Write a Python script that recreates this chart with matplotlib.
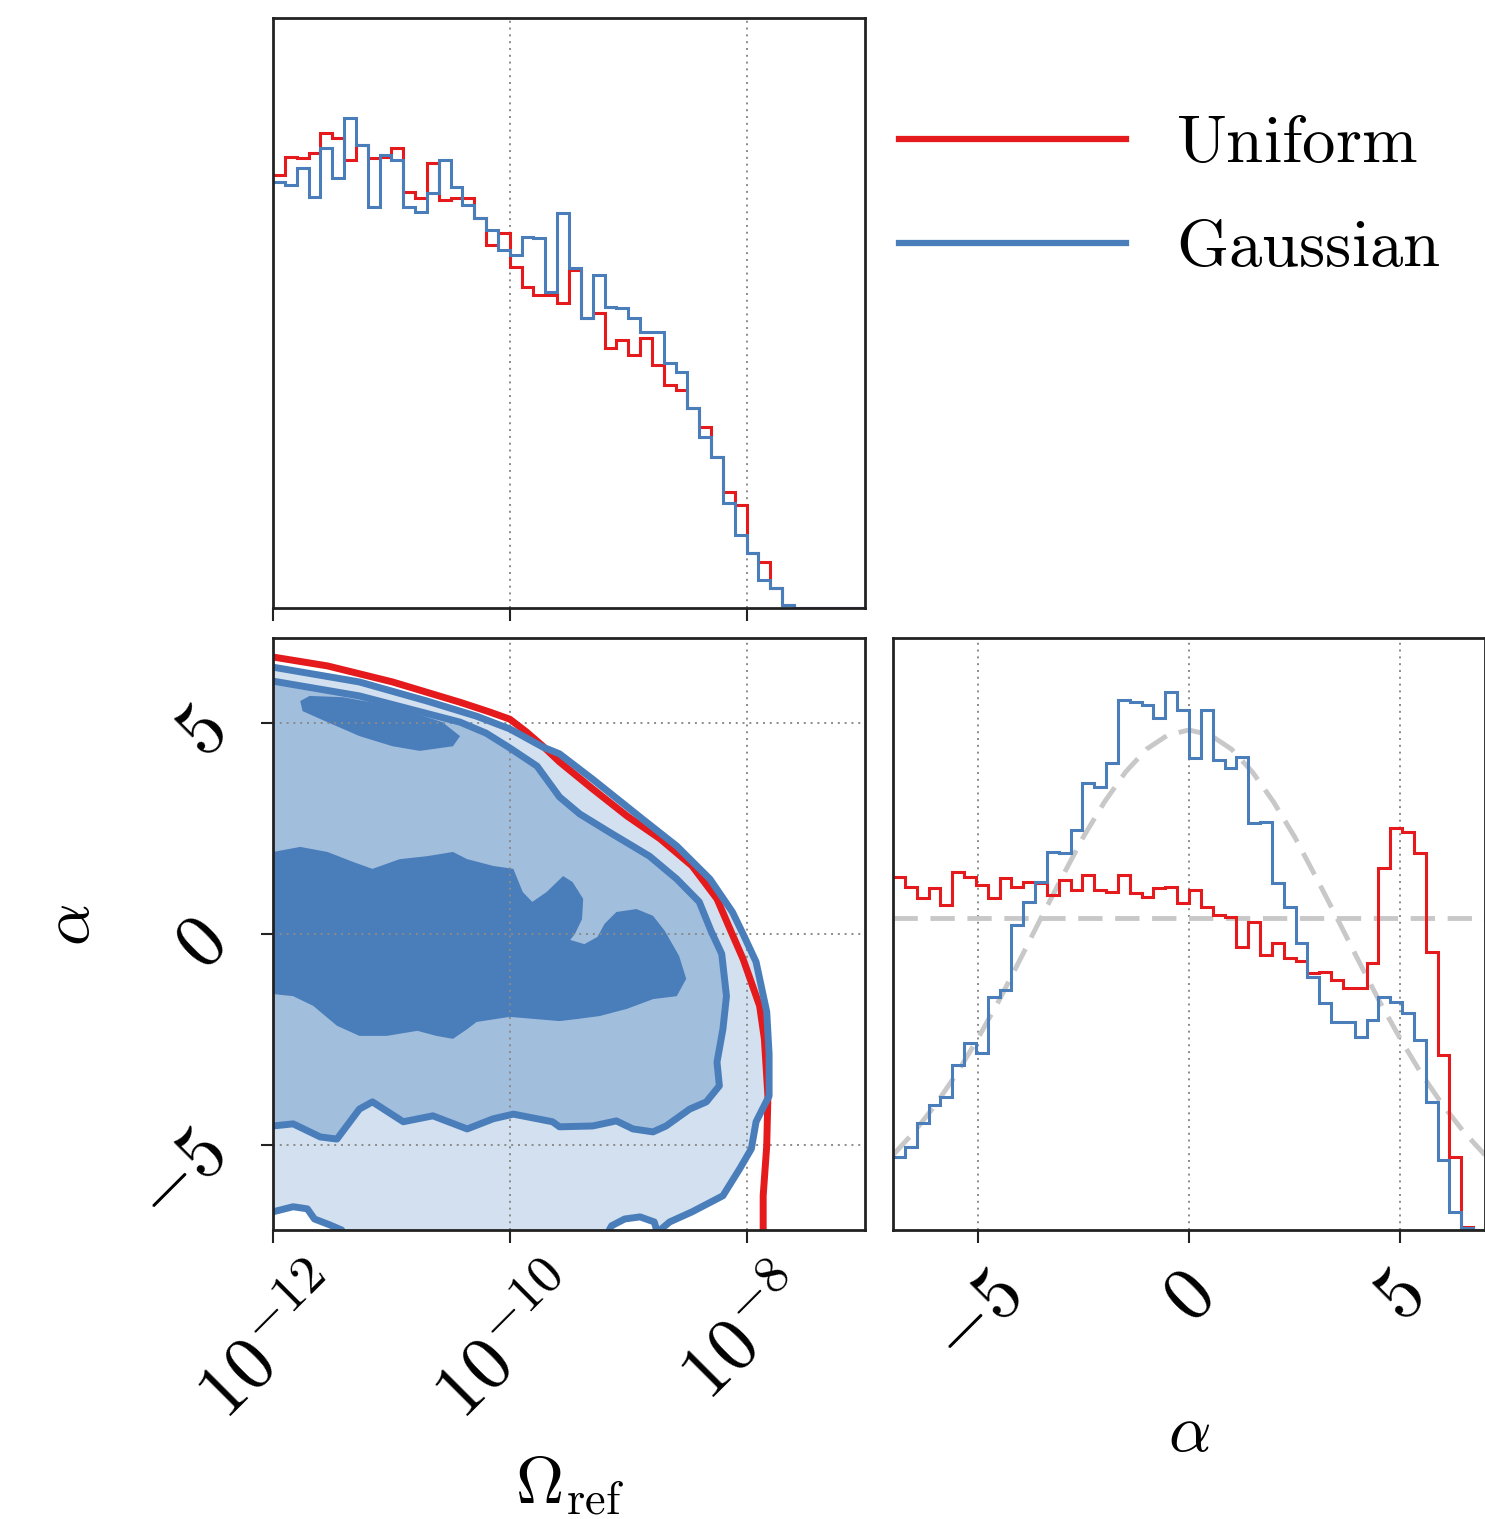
import numpy as np
import matplotlib
matplotlib.use("Agg")
import matplotlib.pyplot as plt
from matplotlib.lines import Line2D

plt.rcParams['mathtext.fontset'] = 'cm'
plt.rcParams['font.family'] = ['DejaVu Serif', 'DejaVu Sans']

RED = '#e41a1c'
BLUE = '#4a7ebb'
MID = '#a2bedd'
LIGHT = '#d2e0ef'
PRIOR = '#c8c8c8'
GRID = '#8a8a8a'
SPINE = '#222222'

# ---------------- data ----------------
omega_range = (-12.0, -7.0)
alpha_range = (-7.0, 7.0)
n_bins = 50

# 1D marginal of log10(Omega_ref) (arbitrary density units)
omega_uniform = [433, 451, 450, 455, 475, 470, 448, 463, 450, 451,
                 460, 416, 410, 445, 408, 410, 410, 390, 363, 375,
                 341, 321, 313, 313, 305, 338, 290, 295, 260, 268,
                 253, 270, 243, 223, 218, 200, 181, 151, 116, 103,
                 55, 46, 20, 3, 0, 0, 0, 0, 0, 0]
omega_gauss = [426, 423, 440, 411, 460, 430, 490, 463, 401, 453,
               448, 401, 396, 415, 448, 421, 403, 390, 378, 358,
               353, 371, 370, 316, 395, 340, 290, 333, 301, 300,
               290, 276, 276, 245, 236, 200, 171, 151, 105, 73,
               55, 28, 20, 3, 0, 0, 0, 0, 0, 0]

# 1D marginal of alpha (arbitrary density units)
alpha_uniform = [353, 343, 332, 342, 325, 358, 353, 345, 332, 352,
                 343, 348, 347, 335, 350, 340, 355, 340, 338, 355,
                 337, 333, 342, 343, 327, 340, 323, 315, 313, 283,
                 308, 275, 287, 272, 269, 257, 258, 250, 242, 242,
                 267, 362, 402, 398, 377, 278, 175, 73, 3, 0]
alpha_gauss = [73, 83, 107, 125, 133, 165, 187, 177, 233, 240,
               305, 328, 348, 378, 377, 400, 447, 443, 467, 530,
               528, 525, 512, 538, 520, 472, 520, 470, 462, 473,
               407, 408, 347, 323, 287, 253, 227, 208, 208, 193,
               210, 233, 228, 217, 190, 128, 70, 18, 2, 0]

# priors on alpha
uniform_prior_level = 312
prior_alpha = [-7, -6.5, -6, -5.5, -5, -4.5, -4, -3.5, -3, -2.5, -2, -1.5, -1, -0.5, 0,
               0.5, 1, 1.5, 2, 2.5, 3, 3.5, 4, 4.5, 5, 5.5, 6, 6.5, 7]
prior_gauss = [75, 98, 125, 156, 191, 229, 270, 312, 353, 393, 428, 458, 481, 495, 500,
               495, 481, 458, 428, 393, 353, 312, 270, 229, 191, 156, 125, 98, 75]

# 2D credible-region contours (log10 Omega_ref, alpha)
red_outer_x = [-12.00, -11.54, -10.99, -10.42, -10.17, -10.00, -9.86, -9.72, -9.58, -9.30,
               -9.01, -8.73, -8.46, -8.25, -8.13, -8.03, -7.89, -7.85, -7.82, -7.83,
               -7.86, -7.86]
red_outer_y = [6.55, 6.34, 5.96, 5.48, 5.25, 5.08, 4.78, 4.44, 4.07, 3.43,
               2.79, 2.25, 1.61, 0.83, 0.05, -0.59, -1.70, -2.48, -3.83, -5.01,
               -6.19, -7.00]

blue_outer_x = [-12.00, -11.27, -10.70, -10.28, -10.00, -9.72, -9.58, -9.30, -8.88, -8.59,
                -8.31, -8.12, -8.03, -7.92, -7.83, -7.81, -7.81, -7.92, -7.96, -8.06,
                -8.20, -8.46, -8.65, -8.73]
blue_outer_y = [6.31, 5.96, 5.51, 5.15, 4.85, 4.42, 4.26, 3.66, 2.72, 2.08,
                1.30, 0.52, 0.00, -0.66, -1.84, -2.84, -3.83, -4.44, -5.08, -5.56,
                -6.19, -6.57, -6.81, -7.00]

blue_bump_x = [-8.76, -8.78, -8.90, -9.03, -9.14, -9.16]
blue_bump_y = [-7.00, -6.81, -6.69, -6.74, -6.90, -7.00]

blue_corner_x = [-12.00, -11.83, -11.71, -11.65, -11.52, -11.42]
blue_corner_y = [-6.57, -6.45, -6.50, -6.74, -6.88, -7.00]

blue_mid_x = [-12.00, -11.27, -10.42, -10.20, -10.00, -9.77, -9.58, -9.41, -9.16, -8.82, -8.59,
              -8.40, -8.30, -8.21, -8.17, -8.20, -8.25, -8.23, -8.34, -8.48, -8.68,
              -8.79, -8.96, -9.10, -9.30, -9.58, -9.64, -9.97, -10.14, -10.36, -10.65,
              -10.90, -11.16, -11.27, -11.46, -11.60, -11.83, -12.00]
blue_mid_y = [5.98, 5.63, 5.01, 4.75, 4.40, 3.97, 3.24, 2.84, 2.41, 1.84, 1.30,
              0.76, 0.07, -0.47, -1.47, -2.25, -3.03, -3.59, -3.97, -4.14, -4.54,
              -4.68, -4.61, -4.42, -4.54, -4.56, -4.44, -4.26, -4.37, -4.61, -4.30,
              -4.44, -3.97, -4.14, -4.85, -4.80, -4.49, -4.54]

blue_core1_x = [-11.77, -11.69, -11.41, -10.99, -10.57, -10.42, -10.48, -10.76, -10.99,
                -11.27, -11.54, -11.75]
blue_core1_y = [5.51, 5.63, 5.60, 5.39, 5.01, 4.68, 4.44, 4.33, 4.44, 4.68, 5.01, 5.27]

blue_core2_x = [-12.00, -11.77, -11.54, -11.32, -11.16, -10.93, -10.70, -10.48, -10.36, -10.14,
                -9.97, -9.89, -9.81, -9.69, -9.55, -9.47, -9.38, -9.39, -9.45, -9.49,
                -9.37, -9.26, -9.20, -9.10, -8.93, -8.79, -8.69, -8.57, -8.51, -8.59,
                -8.79, -9.01, -9.24, -9.43, -9.58, -10.00, -10.28, -10.36, -10.48, -10.62,
                -10.78, -11.04, -11.27, -11.46, -11.66, -11.83, -12.00]
blue_core2_y = [1.94, 2.06, 1.94, 1.70, 1.54, 1.77, 1.84, 1.94, 1.77, 1.61,
                1.54, 0.99, 0.76, 0.99, 1.37, 1.23, 0.83, 0.35, 0.00, -0.14,
                -0.24, -0.07, 0.24, 0.52, 0.59, 0.43, 0.07, -0.52, -1.06, -1.47,
                -1.54, -1.77, -1.94, -2.01, -2.06, -1.96, -2.08, -2.25, -2.48, -2.41,
                -2.29, -2.41, -2.41, -2.17, -1.70, -1.47, -1.42]

omega_ticks = [-12, -10, -8]
omega_ticklabels = [r'$10^{-12}$', r'$10^{-10}$', r'$10^{-8}$']
alpha_ticks = [-5, 0, 5]
alpha_ticklabels = [r'$-5$', r'$0$', r'$5$']
legend_labels = [r'$\mathrm{Uniform}$', r'$\mathrm{Gaussian}$']

# ---------------- figure ----------------
fig = plt.figure(figsize=(14.85, 15.19), dpi=100)
ax_top = fig.add_axes([0.18384, 0.59974, 0.39865, 0.38841])
ax_2d = fig.add_axes([0.18384, 0.19026, 0.39865, 0.38973])
ax_a = fig.add_axes([0.60135, 0.19026, 0.39865, 0.38973])

TICK_FS = 55
LABEL_FS = 48
grid_kw = dict(color=GRID, linestyle=(0, (1, 2.5)), linewidth=1.4)

for ax in (ax_top, ax_2d, ax_a):
    for s in ax.spines.values():
        s.set_linewidth(2.0)
        s.set_color(SPINE)
        s.set_zorder(5)
    ax.tick_params(direction='out', length=9, width=1.5, color=SPINE,
                   labelsize=TICK_FS)
    ax.tick_params(axis='x', pad=11)
    ax.tick_params(axis='y', pad=14)

omega_edges = np.linspace(omega_range[0], omega_range[1], n_bins + 1)
alpha_edges = np.linspace(alpha_range[0], alpha_range[1], n_bins + 1)

# top: Omega marginal
ax_top.stairs(omega_uniform, omega_edges, baseline=None, color=RED, lw=2.2, zorder=3)
ax_top.stairs(omega_gauss, omega_edges, baseline=None, color=BLUE, lw=2.2, zorder=3.1)
ax_top.set_xlim(*omega_range)
ax_top.set_ylim(0, 590)
ax_top.set_xticks(omega_ticks)
ax_top.set_xticklabels([])
ax_top.set_yticks([])
ax_top.grid(axis='x', **grid_kw)

# 2D panel
light_x = blue_outer_x + blue_bump_x + blue_corner_x[::-1]
light_y = blue_outer_y + blue_bump_y + blue_corner_y[::-1]
ax_2d.fill(light_x, light_y, color=LIGHT, lw=0, zorder=1)
ax_2d.fill(blue_mid_x, blue_mid_y, color=MID, lw=0, zorder=1.1)
ax_2d.fill(blue_core1_x, blue_core1_y, color=BLUE, lw=0, zorder=1.2)
ax_2d.fill(blue_core2_x, blue_core2_y, color=BLUE, lw=0, zorder=1.2)
line_kw = dict(lw=5.0, solid_joinstyle='round', solid_capstyle='round')
ax_2d.plot(red_outer_x, red_outer_y, color=RED, zorder=3, **line_kw)
ax_2d.plot(blue_outer_x, blue_outer_y, color=BLUE, zorder=3.1, **line_kw)
ax_2d.plot(blue_mid_x, blue_mid_y, color=BLUE, zorder=3.1, **line_kw)
ax_2d.plot(blue_bump_x, blue_bump_y, color=BLUE, zorder=3.1, **line_kw)
ax_2d.plot(blue_corner_x, blue_corner_y, color=BLUE, zorder=3.1, **line_kw)
ax_2d.set_xlim(*omega_range)
ax_2d.set_ylim(*alpha_range)
ax_2d.set_xticks(omega_ticks)
ax_2d.set_xticklabels(omega_ticklabels, rotation=45)
ax_2d.set_yticks(alpha_ticks)
ax_2d.set_yticklabels(alpha_ticklabels, rotation=45)
ax_2d.set_axisbelow(False)
ax_2d.grid(True, zorder=4, **grid_kw)
ax_2d.set_xlabel(r'$\Omega_{\mathrm{ref}}$', fontsize=LABEL_FS)
ax_2d.xaxis.set_label_coords(0.5, -0.375)
ax_2d.set_ylabel(r'$\alpha$', fontsize=LABEL_FS)
ax_2d.yaxis.set_label_coords(-0.287, 0.515)

# alpha marginal
ax_a.axhline(uniform_prior_level, color=PRIOR, lw=3.5, ls=(0, (5, 2.6)), zorder=2)
ax_a.plot(prior_alpha, prior_gauss, color=PRIOR, lw=3.5, ls=(0, (5, 2.6)), zorder=2)
ax_a.stairs(alpha_uniform, alpha_edges, baseline=None, color=RED, lw=2.2, zorder=3)
ax_a.stairs(alpha_gauss, alpha_edges, baseline=None, color=BLUE, lw=2.2, zorder=3.1)
ax_a.set_xlim(*alpha_range)
ax_a.set_ylim(0, 592)
ax_a.set_xticks(alpha_ticks)
ax_a.set_xticklabels(alpha_ticklabels, rotation=45)
ax_a.set_yticks([])
ax_a.grid(axis='x', **grid_kw)
ax_a.set_xlabel(r'$\alpha$', fontsize=LABEL_FS)
ax_a.xaxis.set_label_coords(0.5, -0.287)

# legend
handles = [Line2D([], [], color=RED, lw=4.5), Line2D([], [], color=BLUE, lw=4.5)]
fig.legend(handles, legend_labels, loc='upper left',
           bbox_to_anchor=(899 / 1485, 1 - 111 / 1519), frameon=False,
           fontsize=48, handlelength=3.4, handletextpad=0.75,
           labelspacing=0.58, borderpad=0, borderaxespad=0)

fig.savefig('out.png', dpi=100)
